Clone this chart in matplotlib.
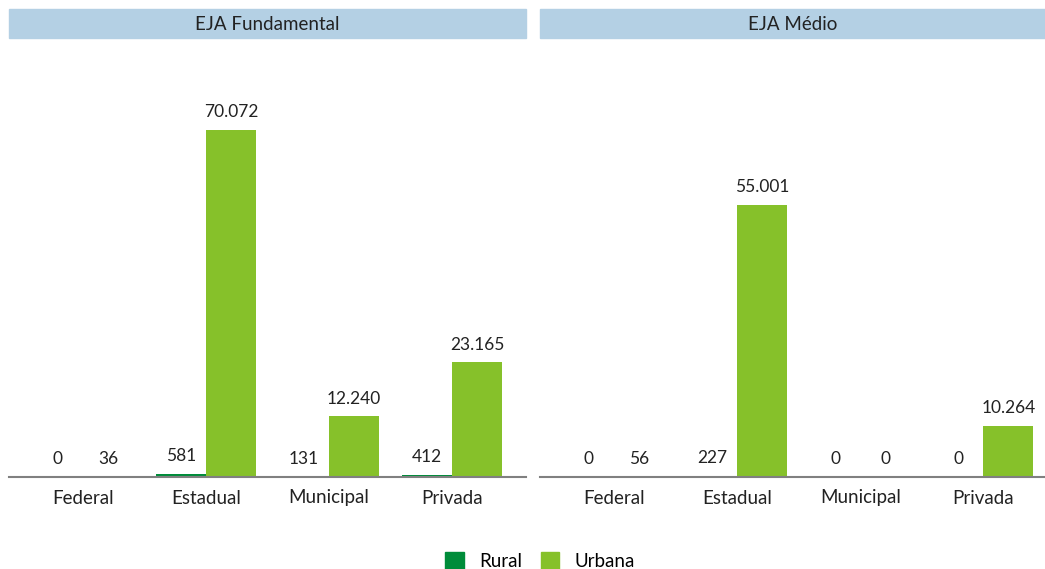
import matplotlib.pyplot as plt
from matplotlib.patches import Patch, Rectangle

categories = ['Federal', 'Estadual', 'Municipal', 'Privada']
panels = ['EJA Fundamental', 'EJA Médio']

fund_rural = [0, 581, 131, 412]
fund_urbana = [36, 70072, 12240, 23165]
medio_rural = [0, 227, 0, 0]
medio_urbana = [56, 55001, 0, 10264]

rural_color = '#008C3A'
urbana_color = '#86C12A'
header_color = '#B4D0E4'

plt.rcParams['font.family'] = ['Lato', 'DejaVu Sans']

W, H = 1045, 569
fig = plt.figure(figsize=(W / 100, H / 100), dpi=100)


def fmt(v):
    return f'{v:,}'.replace(',', '.')


def panel(x0, x1, xlim, title, rural, urbana):
    # axes spans from header bottom (y=38px) to baseline (y=477px)
    ax = fig.add_axes([x0 / W, (H - 477) / H, (x1 - x0) / W, (477 - 38) / H])
    width = 50 / 123
    xs = list(range(len(categories)))
    ax.bar([x - width / 2 for x in xs], rural, width, color=rural_color)
    ax.bar([x + width / 2 for x in xs], urbana, width, color=urbana_color)
    ymax = 439 / 347 * 70072
    ax.set_ylim(0, ymax)
    ax.set_xlim(*xlim)
    for x, r, u in zip(xs, rural, urbana):
        ax.annotate(fmt(r), (x - width / 2, r), xytext=(0, 7), textcoords='offset points',
                    ha='center', va='bottom', fontsize=12.5, color='#222222')
        ax.annotate(fmt(u), (x + width / 2, u), xytext=(0, 7), textcoords='offset points',
                    ha='center', va='bottom', fontsize=12.5, color='#222222')
    ax.set_xticks(xs)
    ax.set_xticklabels(categories, fontsize=13.5, color='#222222')
    ax.tick_params(axis='x', length=0, pad=9)
    ax.set_yticks([])
    for s in ['top', 'left', 'right']:
        ax.spines[s].set_visible(False)
    ax.spines['bottom'].set_color('#808080')
    ax.spines['bottom'].set_linewidth(1.5)
    # header band
    fig.patches.append(Rectangle((x0 / W, (H - 38) / H), (x1 - x0) / W, 29 / H,
                                 transform=fig.transFigure, color=header_color, zorder=0))
    fig.text((x0 + x1) / 2 / W, (H - 24.5) / H, title, ha='center', va='center',
             fontsize=13.5, color='#222222')
    return ax


panel(9, 526, (-0.6, 3.6), panels[0], fund_rural, fund_urbana)
panel(540, 1045, (-0.6, 3.5), panels[1], medio_rural, medio_urbana)

handles = [Patch(color=rural_color, label='Rural'), Patch(color=urbana_color, label='Urbana')]
fig.legend(handles=handles, loc='center', bbox_to_anchor=(540 / W, (H - 561) / H), ncol=2,
           frameon=False, fontsize=13.5, handlelength=1.0, handleheight=1.0,
           handletextpad=0.8, columnspacing=1.0)

fig.savefig('out.png', dpi=100)
